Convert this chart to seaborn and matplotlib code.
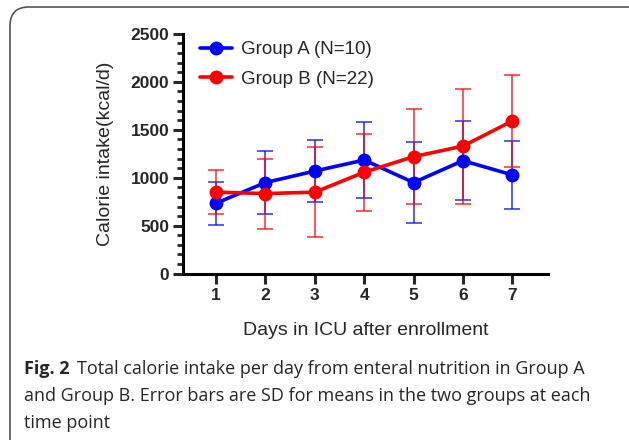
import numpy as np
import pandas as pd
import matplotlib
matplotlib.use('Agg')
import matplotlib.pyplot as plt
from matplotlib.patches import FancyBboxPatch
from matplotlib.ticker import MultipleLocator
import seaborn as sns

# values (mean and SD per day)
days = [1, 2, 3, 4, 5, 6, 7]
group_a_mean = [735, 950, 1070, 1185, 950, 1178, 1030]
group_a_sd = [225, 325, 327, 400, 420, 412, 353]
group_b_mean = [850, 835, 850, 1058, 1220, 1330, 1592]
group_b_sd = [233, 365, 467, 400, 492, 600, 480]
group_names = ['Group A (N=10)', 'Group B (N=22)']
colors = ['#0000FF', '#FF0000']
caption = ['Fig. 2', 'Total calorie intake per day from enteral nutrition in Group A',
           'and Group B. Error bars are SD for means in the two groups at each',
           'time point']

df = pd.concat([
    pd.DataFrame({'Day': days, 'Mean': group_a_mean, 'SD': group_a_sd, 'Group': group_names[0]}),
    pd.DataFrame({'Day': days, 'Mean': group_b_mean, 'SD': group_b_sd, 'Group': group_names[1]}),
])

sns.set_style('ticks')
plt.rcParams['font.family'] = ['Liberation Sans', 'DejaVu Sans']

fig = plt.figure(figsize=(6.29, 4.40), dpi=100)
ax = fig.add_axes([0.291, 0.378, 0.58, 0.545])

# error bars first, slightly transparent
for name, col in zip(group_names, colors):
    sub = df[df['Group'] == name]
    ax.errorbar(sub['Day'], sub['Mean'], yerr=sub['SD'], fmt='none',
                ecolor=col, elinewidth=1.3, capsize=5.5, capthick=1.3,
                alpha=0.7, zorder=2)

sns.lineplot(data=df, x='Day', y='Mean', hue='Group', palette=colors,
             marker='o', markersize=10, markeredgewidth=0, linewidth=2.6,
             ax=ax, zorder=3)

ax.set_xlim(0.33, 7.72)
ax.set_ylim(0, 2500)
ax.set_xticks(days)
ax.yaxis.set_major_locator(MultipleLocator(500))
ax.yaxis.set_minor_locator(MultipleLocator(100))
for s in ['top', 'right']:
    ax.spines[s].set_visible(False)
for s in ['left', 'bottom']:
    ax.spines[s].set_linewidth(2.2)
    ax.spines[s].set_color('black')
ax.tick_params(axis='both', which='major', length=7, width=2.2, labelsize=12.5, pad=3)
ax.tick_params(axis='y', which='minor', length=4.5, width=2.0)
for lab in ax.get_xticklabels() + ax.get_yticklabels():
    lab.set_fontweight('bold')

ax.set_xlabel('Days in ICU after enrollment', fontsize=14, labelpad=14)
ax.set_ylabel('Calorie intake(kcal/d)', fontsize=14, labelpad=12)

ax.legend(loc='upper left', bbox_to_anchor=(0.0, 1.04), frameon=False,
          fontsize=13.5, handlelength=1.7, handletextpad=0.5, labelspacing=0.65)

# caption
fig.text(0.038, 0.150, caption[0], fontsize=13, family='Open Sans', fontweight='bold')
fig.text(0.122, 0.150, caption[1], fontsize=13, family='Open Sans')
fig.text(0.038, 0.088, caption[2], fontsize=13, family='Open Sans')
fig.text(0.038, 0.028, caption[3], fontsize=13, family='Open Sans')

# rounded frame round the figure, open on the right and bottom
box = FancyBboxPatch((10 / 629, -0.2), 1.2, 1.2 - 7 / 440,
                     boxstyle='round,pad=0,rounding_size=0.03',
                     transform=fig.transFigure, fill=False,
                     edgecolor='#555555', linewidth=1.2, mutation_aspect=629 / 440)
fig.patches.append(box)

fig.savefig('out.png', dpi=100)
